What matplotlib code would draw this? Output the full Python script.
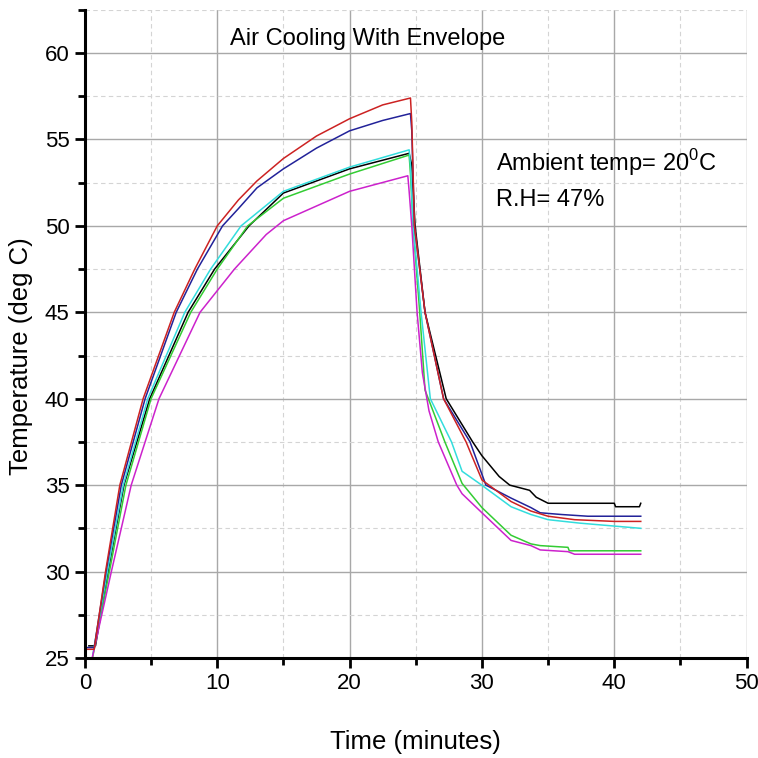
import matplotlib
matplotlib.use("Agg")
import matplotlib.pyplot as plt
from matplotlib.ticker import MultipleLocator
from matplotlib import font_manager

names = {f.name for f in font_manager.fontManager.ttflist}
fam = ['Liberation Sans Narrow', 'Liberation Sans', 'DejaVu Sans']
fam = [f for f in fam if f in names] or ['DejaVu Sans']
plt.rcParams['font.family'] = fam

# ---- data (time in minutes, temperature in deg C) ----
red_t = [0, 0.7, 1.56, 2.64, 4.4, 6.75, 8.3, 10.0, 11.6, 13.0, 15, 17.5, 20, 22.5, 24.6, 24.7, 24.9, 25.7, 27.1, 28.8, 30.0, 32.2, 33.7, 35, 37, 40, 42]
red_T = [25.5, 25.5, 30, 35, 40, 45, 47.5, 50, 51.5, 52.6, 53.9, 55.2, 56.2, 57.0, 57.4, 56.0, 50, 45, 40, 37.5, 35.3, 34.05, 33.5, 33.2, 33.0, 32.9, 32.9]

blue_t = [0, 0.7, 1.6, 2.75, 4.55, 6.9, 8.5, 10.4, 11.6, 13.0, 15, 17.5, 20, 22.5, 24.6, 24.7, 24.9, 25.7, 27.1, 29.1, 30.3, 32.2, 33.7, 34.4, 36, 38, 42]
blue_T = [25.6, 25.6, 30, 35, 40, 45, 47.5, 50, 51.0, 52.2, 53.3, 54.5, 55.5, 56.1, 56.5, 55.5, 50, 45, 40, 37.5, 35, 34.25, 33.7, 33.4, 33.3, 33.2, 33.2]

black_t = [0.3, 0.8, 1.75, 2.95, 4.9, 7.8, 9.8, 12.4, 15, 20, 24.5, 24.7, 24.95, 25.7, 27.3, 29.3, 30.0, 31.3, 32.1, 33.6, 34.1, 35, 40, 40.1, 41.9, 42]
black_T = [25.7, 25.7, 30, 35, 40, 45, 47.5, 50, 51.9, 53.3, 54.2, 53.5, 50, 45, 40, 37.5, 36.7, 35.5, 35, 34.7, 34.3, 33.95, 33.95, 33.75, 33.75, 33.95]

cyan_t = [0.6, 1.7, 2.9, 4.75, 7.55, 9.5, 11.8, 15, 20, 24.5, 24.6, 24.8, 25.4, 26.1, 27.7, 28.5, 29.8, 32.2, 33.7, 35, 37.4, 42]
cyan_T = [25.2, 30, 35, 40, 45, 47.5, 50, 52.0, 53.4, 54.4, 53.5, 50, 45, 40, 37.5, 35.8, 35.1, 33.75, 33.3, 33.0, 32.8, 32.5]

green_t = [0.6, 1.85, 3.1, 5.0, 8.0, 10.0, 12.3, 15, 20, 24.5, 24.6, 24.8, 25.3, 25.7, 27.2, 28.5, 30, 32.2, 33.7, 34.4, 36.5, 36.6, 42]
green_T = [25.1, 30, 35, 40, 45, 47.5, 50, 51.6, 53.0, 54.1, 53.0, 50, 45, 40.5, 37.5, 35.1, 33.7, 32.1, 31.6, 31.5, 31.4, 31.2, 31.2]

mag_t = [0.55, 2.0, 3.5, 5.6, 8.7, 11.3, 13.7, 15, 20, 24.4, 24.5, 24.7, 25.1, 25.5, 26.0, 26.7, 28.1, 28.5, 30, 32.2, 33.7, 34.4, 36.5, 37, 42]
mag_T = [25.0, 30, 35, 40, 45, 47.5, 49.5, 50.3, 52.0, 52.9, 52.0, 50, 45, 41.5, 39.3, 37.5, 35, 34.5, 33.4, 31.8, 31.5, 31.25, 31.15, 31.0, 31.0]

series = [
    (black_t, black_T, '#000000'),
    (green_t, green_T, '#33cc33'),
    (cyan_t, cyan_T, '#33dddd'),
    (mag_t, mag_T, '#cc22cc'),
    (blue_t, blue_T, '#222299'),
    (red_t, red_T, '#cc2222'),
]

fig = plt.figure(figsize=(7.58, 7.58), dpi=100)
ax = fig.add_axes([0.112, 0.132, 0.873, 0.855])

for t, T, c in series:
    ax.plot(t, T, color=c, lw=1.1)

ax.set_xlim(0, 50)
ax.set_ylim(25, 62.5)
ax.xaxis.set_major_locator(MultipleLocator(10))
ax.xaxis.set_minor_locator(MultipleLocator(5))
ax.yaxis.set_major_locator(MultipleLocator(5))
ax.yaxis.set_minor_locator(MultipleLocator(2.5))

ax.grid(which='major', color='#a8a8a8', lw=1.0, ls='-')
ax.grid(which='minor', color='#d4d4d4', lw=0.8, ls=(0, (4, 3)))
ax.set_axisbelow(True)

for s in ['top', 'right']:
    ax.spines[s].set_visible(False)
for s in ['left', 'bottom']:
    ax.spines[s].set_linewidth(2.2)

ax.tick_params(which='major', direction='out', length=7, width=2, labelsize=16, pad=4)
ax.tick_params(which='minor', direction='out', length=5, width=2)

ax.set_xlabel('Time (minutes)', fontsize=18.5, labelpad=26)
ax.set_ylabel('Temperature (deg C)', fontsize=18.5)
ax.yaxis.set_label_coords(-0.078, 0.465)

ax.text(0.219, 0.955, 'Air Cooling With Envelope', transform=ax.transAxes, fontsize=17, ha='left', va='center')
ax.text(0.622, 0.765, r'Ambient temp= 20$^\mathregular{0}$C', transform=ax.transAxes, fontsize=17, ha='left', va='center')
ax.text(0.622, 0.706, 'R.H= 47%', transform=ax.transAxes, fontsize=17, ha='left', va='center')

fig.savefig('out.png', dpi=100)
